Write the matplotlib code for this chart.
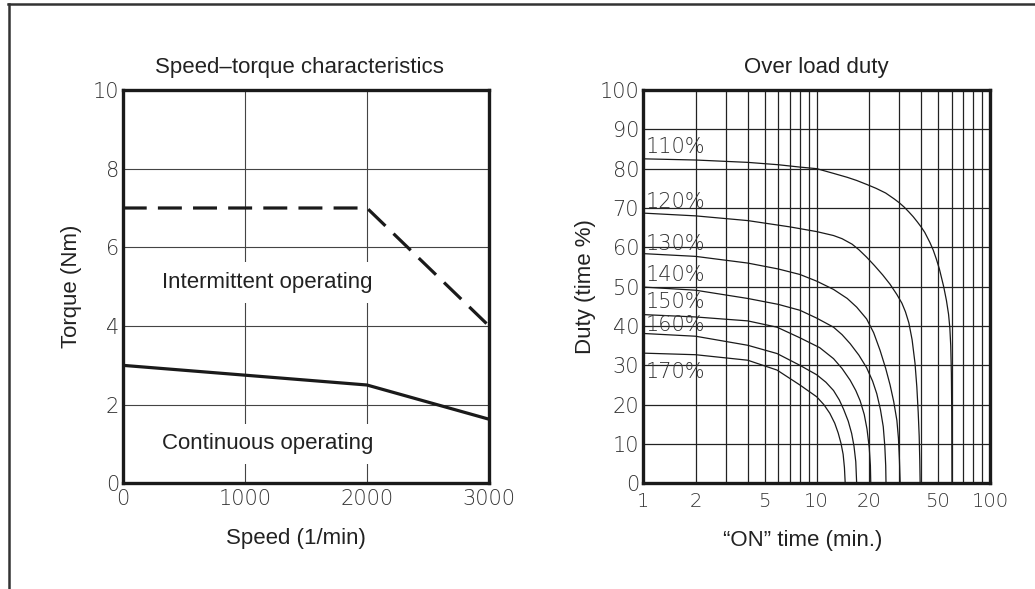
import matplotlib.pyplot as plt
from matplotlib.lines import Line2D
from matplotlib.ticker import NullFormatter


# Speed-torque characteristics
speed = [0, 2000, 3000]
torque_intermittent = [7, 7, 4]
speed_cont = [0, 2000, 3000]
torque_continuous = [3.0, 2.5, 1.63]

speed_ticks = [0, 1000, 2000, 3000]
torque_ticks = [0, 2, 4, 6, 8, 10]

# Over load duty curves (ON time in min, duty in %)
load_labels = ['110%', '120%', '130%', '140%', '150%', '160%', '170%']
label_duty = [85.4, 71.5, 60.9, 52.9, 46.1, 40.2, 28.3]

time_110 = [1, 2, 4, 6, 8, 10, 12.5, 15, 17, 19.4, 22, 25, 28, 30, 32, 34, 36, 38, 40, 42,
            45, 47, 49, 51, 54, 56, 57.6, 58.6, 59.3, 59.8, 60.1, 60.3]
duty_110 = [82.5, 82.2, 81.6, 81.0, 80.4, 80.0, 78.8, 77.8, 77.0, 76.0, 75.0, 73.8, 72.3, 71.3,
            70.2, 69.0, 67.8, 66.5, 65.2, 63.8, 61.2, 59.3, 57.0, 54.5, 50.0, 46.5, 43.0, 39.5,
            35.0, 28.0, 18.0, 0]

time_120 = [1, 2, 4, 7, 10, 12.5, 14, 16, 17.5, 19.4, 21.5, 24, 26.5, 29, 31, 32.5, 34, 35.5,
            36.9, 37.8, 38.5, 39, 39.3, 39.5]
duty_120 = [68.7, 68.0, 66.8, 65.2, 64.0, 63.0, 62.2, 60.8, 59.4, 57.5, 55.4, 53.0, 50.6, 48.0,
            45.8, 43.6, 40.8, 36.5, 30.5, 24.5, 18.0, 12.0, 6.0, 0]

time_130 = [1, 2, 4, 6, 8, 10, 12.5, 15, 17, 19.4, 21.3, 23.2, 25, 26.5, 27.8, 29, 29.6, 30, 30.3]
duty_130 = [58.4, 57.7, 56.0, 54.5, 53.1, 51.4, 49.3, 47.0, 44.8, 41.8, 38.3, 33.8, 29.2, 25.0,
            20.8, 16.0, 11.5, 6.0, 0]

time_140 = [1, 2, 4, 6, 8, 10, 12.5, 14, 15.6, 17.5, 19.4, 21, 22.2, 23.3, 24.2, 24.7, 25.0, 25.1]
duty_140 = [49.9, 49.1, 47.0, 45.5, 44.0, 42.0, 39.7, 37.8, 35.5, 32.6, 29.4, 26.0, 22.8, 18.8,
            14.4, 9.5, 4.5, 0]

time_150 = [1, 2, 4, 5.9, 8, 10.4, 12.5, 14, 15.6, 16.8, 17.8, 18.8, 19.5, 20.1, 20.4, 20.5]
duty_150 = [42.9, 42.3, 41.3, 39.7, 37.0, 34.5, 31.7, 29.2, 26.2, 23.6, 21.0, 17.5, 13.8, 9.0,
            4.5, 0]

time_160 = [1, 2, 4, 5.9, 8, 10, 11.3, 12.5, 13.5, 14.3, 15.2, 15.9, 16.4, 16.8, 17.0]
duty_160 = [38.1, 37.4, 35.1, 33.0, 30.0, 27.6, 25.7, 23.6, 21.2, 18.8, 15.8, 12.7, 9.5, 5.5, 0]

time_170 = [1, 2, 4, 5.9, 8, 10, 11, 11.9, 12.7, 13.3, 13.8, 14.2, 14.45, 14.6]
duty_170 = [33.1, 32.7, 31.3, 28.8, 25.0, 22.0, 20.0, 17.8, 15.3, 12.8, 10.2, 7.4, 4.0, 0]

duty_ticks = list(range(0, 101, 10))
time_ticks = [1, 2, 5, 10, 20, 50, 100]


def style_ticks(ax, size):
    # drafting-like digits for the tick labels
    for lbl in ax.get_xticklabels() + ax.get_yticklabels():
        lbl.set_fontfamily('DejaVu Sans')
        lbl.set_fontweight('light')
        lbl.set_fontsize(size)
        lbl.set_color('#333333')


def main():
    plt.rcParams['font.family'] = ['Liberation Sans', 'DejaVu Sans']
    fig = plt.figure(figsize=(10.35, 5.89), dpi=100)

    # outer frame (top and left edges only)
    fig.add_artist(Line2D([8 / 1035, 1], [1 - 4 / 589, 1 - 4 / 589],
                          transform=fig.transFigure, color='#333333', lw=1.8))
    fig.add_artist(Line2D([9 / 1035, 9 / 1035], [0, 1 - 4 / 589],
                          transform=fig.transFigure, color='#333333', lw=1.8))

    # ---- left: speed-torque ----
    ax1 = fig.add_axes([0.1186, 0.1794, 0.3539, 0.6678])
    ax1.plot(speed, torque_intermittent, color='#1a1a1a', lw=2.3,
             dashes=(7.5, 3.5), zorder=2)
    ax1.plot(speed_cont, torque_continuous, color='#1a1a1a', lw=2.3, zorder=2)
    ax1.set_xlim(0, 3000)
    ax1.set_ylim(0, 10)
    ax1.set_xticks(speed_ticks)
    ax1.set_yticks(torque_ticks)
    ax1.set_xticklabels([str(v) for v in speed_ticks])
    ax1.set_yticklabels([str(v) for v in torque_ticks])
    ax1.tick_params(length=0)
    ax1.tick_params(axis='x', pad=4)
    ax1.tick_params(axis='y', pad=2.5)
    style_ticks(ax1, 15)
    ax1.set_axisbelow(True)
    ax1.grid(True, color='#444444', lw=0.8)
    for sp in ax1.spines.values():
        sp.set_linewidth(2.4)
        sp.set_color('#1a1a1a')

    box = dict(facecolor='white', edgecolor='none', pad=7)
    ax1.text(1185, 5.1, 'Intermittent operating', fontsize=16, color='#222222',
             ha='center', va='center', bbox=box, zorder=3)
    ax1.text(1190, 1.0, 'Continuous operating', fontsize=16, color='#222222',
             ha='center', va='center', bbox=box, zorder=3)

    ax1.set_title('Speed\u2013torque characteristics', fontsize=16, color='#222222',
                  pad=12, x=0.482)
    ax1.set_xlabel('Speed (1/min)', fontsize=16, color='#222222')
    ax1.xaxis.set_label_coords(0.473, -0.113)
    ax1.set_ylabel('Torque (Nm)', fontsize=16, color='#222222')
    ax1.yaxis.set_label_coords(-0.112, 0.5)

    # ---- right: over load duty ----
    ax2 = fig.add_axes([0.6216, 0.1794, 0.3350, 0.6678])
    curves = [(time_110, duty_110), (time_120, duty_120), (time_130, duty_130),
              (time_140, duty_140), (time_150, duty_150), (time_160, duty_160),
              (time_170, duty_170)]
    for t, d in curves:
        ax2.plot(t, d, color='#1a1a1a', lw=0.9, zorder=2)
    for name, y in zip(load_labels, label_duty):
        ax2.text(1.03, y, name, fontsize=15, fontfamily='DejaVu Sans',
                 fontweight='light', color='#333333', ha='left', va='center')

    ax2.set_xscale('log')
    ax2.set_xlim(1, 100)
    ax2.set_ylim(0, 100)
    ax2.set_xticks(time_ticks)
    ax2.set_xticklabels([str(v) for v in time_ticks])
    ax2.xaxis.set_minor_formatter(NullFormatter())
    ax2.set_yticks(duty_ticks)
    ax2.set_yticklabels([str(v) for v in duty_ticks])
    ax2.tick_params(which='both', length=0)
    ax2.tick_params(axis='x', pad=6)
    ax2.tick_params(axis='y', pad=3)
    style_ticks(ax2, 15)
    for lbl in ax2.get_xticklabels():
        lbl.set_fontsize(14)
    ax2.set_axisbelow(True)
    ax2.grid(True, which='both', color='#222222', lw=0.9)
    for sp in ax2.spines.values():
        sp.set_linewidth(2.4)
        sp.set_color('#1a1a1a')

    ax2.set_title('Over load duty', fontsize=16, color='#222222', pad=12)
    ax2.set_xlabel('\u201cON\u201d time (min.)', fontsize=16, color='#222222')
    ax2.xaxis.set_label_coords(0.459, -0.118)
    ax2.set_ylabel('Duty (time %)', fontsize=16, color='#222222')
    ax2.yaxis.set_label_coords(-0.138, 0.5)

    fig.savefig('out.png', dpi=100, facecolor='white')
    plt.close(fig)


if __name__ == "__main__":
    main()
